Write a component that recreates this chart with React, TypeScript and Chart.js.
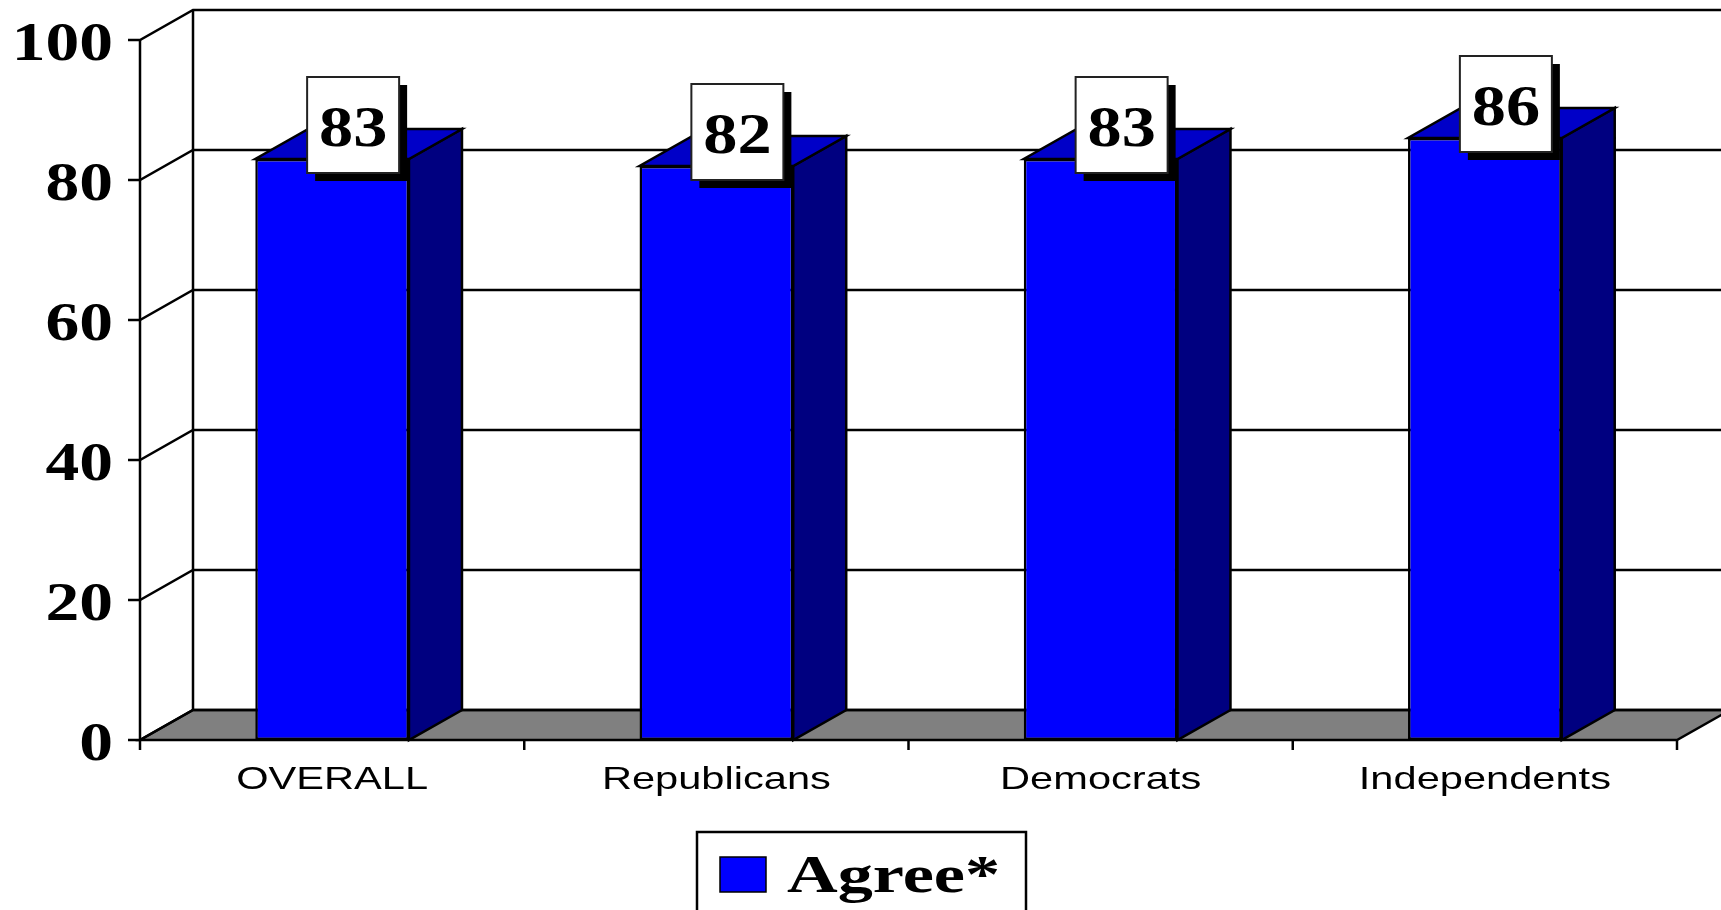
import React, { useEffect, useRef } from "react";
import { Chart, registerables } from "chart.js";

Chart.register(...registerables);

// ---------- data ----------
const categories = ["OVERALL", "Republicans", "Democrats", "Independents"];
const agreeValues = [83, 82, 83, 86];
const seriesLabel = "Agree*";
const yMin = 0;
const yMax = 100;
const yStep = 20;

// ---------- styles ----------
const W = 1721;
const H = 910;
const DX = 53;
const DY = -30;
const FRONT = "#0000FF";
const TOP = "#0000C8";
const SIDE = "#000080";
const FLOOR = "#808080";
const LINE = 2.5;
const SERIF = '"Liberation Serif", "Times New Roman", serif';
const SANS = '"Liberation Sans", Arial, sans-serif';

function sText(ctx: CanvasRenderingContext2D, text: string, x: number, y: number, align: CanvasTextAlign, sx: number) {
  ctx.save();
  ctx.translate(x, y);
  ctx.scale(sx, 1);
  ctx.textAlign = align;
  ctx.textBaseline = "alphabetic";
  ctx.fillText(text, 0, 0);
  ctx.restore();
}

const threeD = {
  id: "threeD",
  beforeDatasetsDraw(chart: any) {
    const { ctx, chartArea: a, scales } = chart;
    const ys = scales.y;
    const xs = scales.x;
    const base = ys.getPixelForValue(yMin);
    const top = ys.getPixelForValue(yMax);
    ctx.save();
    ctx.lineWidth = LINE;
    ctx.strokeStyle = "#000";
    ctx.lineJoin = "miter";
    // floor
    ctx.beginPath();
    ctx.moveTo(a.left, base);
    ctx.lineTo(a.right, base);
    ctx.lineTo(a.right + DX, base + DY);
    ctx.lineTo(a.left + DX, base + DY);
    ctx.closePath();
    ctx.fillStyle = FLOOR;
    ctx.fill();
    ctx.stroke();
    // ticks, left wall diagonals, back wall grid
    ys.ticks.forEach((t: any) => {
      const py = ys.getPixelForValue(t.value);
      ctx.beginPath();
      ctx.moveTo(a.left - 12, py);
      ctx.lineTo(a.left, py);
      ctx.lineTo(a.left + DX, py + DY);
      ctx.lineTo(a.right + DX + 60, py + DY);
      ctx.stroke();
    });
    // back wall left edge
    ctx.beginPath();
    ctx.moveTo(a.left + DX, top + DY);
    ctx.lineTo(a.left + DX, base + DY);
    ctx.stroke();
    // front value axis
    ctx.beginPath();
    ctx.moveTo(a.left, top);
    ctx.lineTo(a.left, base);
    ctx.stroke();
    // category ticks at boundaries
    const n = categories.length;
    const step = (a.right - a.left) / n;
    for (let i = 0; i <= n; i++) {
      const px = i === 0 ? a.left : i === n ? a.right : (xs.getPixelForTick(i - 1) + xs.getPixelForTick(i)) / 2;
      ctx.beginPath();
      ctx.moveTo(px, base);
      ctx.lineTo(px, base + 10);
      ctx.stroke();
    }
    void step;
    ctx.restore();
  },
  afterDatasetsDraw(chart: any) {
    const { ctx, scales } = chart;
    const ys = scales.y;
    const base = ys.getPixelForValue(yMin);
    const meta = chart.getDatasetMeta(0);
    const values = chart.data.datasets[0].data;
    ctx.save();
    ctx.lineWidth = LINE;
    ctx.strokeStyle = "#000";
    ctx.lineJoin = "miter";
    meta.data.forEach((bar: any, i: number) => {
      const x1 = bar.x - bar.width / 2;
      const x2 = bar.x + bar.width / 2;
      const t = bar.y;
      // side face
      ctx.beginPath();
      ctx.moveTo(x2, t);
      ctx.lineTo(x2 + DX, t + DY);
      ctx.lineTo(x2 + DX, base + DY);
      ctx.lineTo(x2, base);
      ctx.closePath();
      ctx.fillStyle = SIDE;
      ctx.fill();
      ctx.stroke();
      // top face
      ctx.beginPath();
      ctx.moveTo(x1, t);
      ctx.lineTo(x2, t);
      ctx.lineTo(x2 + DX, t + DY);
      ctx.lineTo(x1 + DX, t + DY);
      ctx.closePath();
      ctx.fillStyle = TOP;
      ctx.fill();
      ctx.stroke();
    });
    // value boxes
    meta.data.forEach((bar: any, i: number) => {
      const cx = bar.x + 21;
      const cy = bar.y - 34;
      const bw = 92;
      const bh = 96;
      const l = cx - bw / 2;
      const tp = cy - bh / 2;
      ctx.fillStyle = "#000";
      ctx.fillRect(l + 8, tp + 8, bw, bh);
      ctx.fillStyle = "#fff";
      ctx.fillRect(l, tp, bw, bh);
      ctx.lineWidth = 2;
      ctx.strokeStyle = "#222";
      ctx.strokeRect(l, tp, bw, bh);
      ctx.fillStyle = "#000";
      ctx.font = `bold 56px ${SERIF}`;
      sText(ctx, String(values[i]), cx, cy + 21, "center", 1.22);
    });
    ctx.restore();
  },
  afterDraw(chart: any) {
    const { ctx, chartArea: a, scales } = chart;
    const ys = scales.y;
    const xs = scales.x;
    const base = ys.getPixelForValue(yMin);
    ctx.save();
    ctx.fillStyle = "#000";
    // value axis labels
    ctx.font = `bold 54px ${SERIF}`;
    ys.ticks.forEach((t: any) => {
      const py = ys.getPixelForValue(t.value);
      sText(ctx, String(t.value), a.left - 27, py + 19.5, "right", 1.25);
    });
    // category labels
    ctx.font = `32px ${SANS}`;
    categories.forEach((c, i) => {
      sText(ctx, c, xs.getPixelForTick(i), base + 48.5, "center", 1.3);
    });
    // legend
    const ds = chart.data.datasets[0];
    const lw = 329;
    const ll = chart.width / 2 - lw / 2 + 1;
    const lt = 832;
    ctx.lineWidth = 2.5;
    ctx.strokeStyle = "#000";
    ctx.strokeRect(ll, lt, lw, 120);
    ctx.fillStyle = ds.backgroundColor;
    ctx.fillRect(ll + 23, lt + 25, 46, 35);
    ctx.lineWidth = 1.5;
    ctx.strokeRect(ll + 23, lt + 25, 46, 35);
    ctx.fillStyle = "#000";
    ctx.font = `bold 52px ${SERIF}`;
    sText(ctx, ds.label, ll + 90, lt + 60, "left", 1.35);
    ctx.restore();
  },
};

export default function App() {
  const ref = useRef<HTMLCanvasElement | null>(null);
  useEffect(() => {
    if (!ref.current) return;
    const chart = new Chart(ref.current, {
      type: "bar",
      data: {
        labels: categories,
        datasets: [
          {
            label: seriesLabel,
            data: agreeValues,
            backgroundColor: FRONT,
            borderColor: "#000",
            borderWidth: 2.5,
            borderSkipped: false,
            categoryPercentage: 0.8,
            barPercentage: 0.5,
          },
        ],
      },
      options: {
        responsive: false,
        animation: false,
        layout: { padding: { left: 140, right: 44, top: 40, bottom: 170 } },
        plugins: { legend: { display: false }, tooltip: { enabled: false } },
        scales: {
          x: { display: false, offset: true },
          y: { display: false, min: yMin, max: yMax, ticks: { stepSize: yStep } },
        },
      },
      plugins: [threeD],
    });
    return () => chart.destroy();
  }, []);
  return (
    <div style={{ position: "fixed", left: 0, top: 0, width: W, height: H, background: "#fff" }}>
      <canvas ref={ref} width={W} height={H} style={{ display: "block" }} />
    </div>
  );
}
